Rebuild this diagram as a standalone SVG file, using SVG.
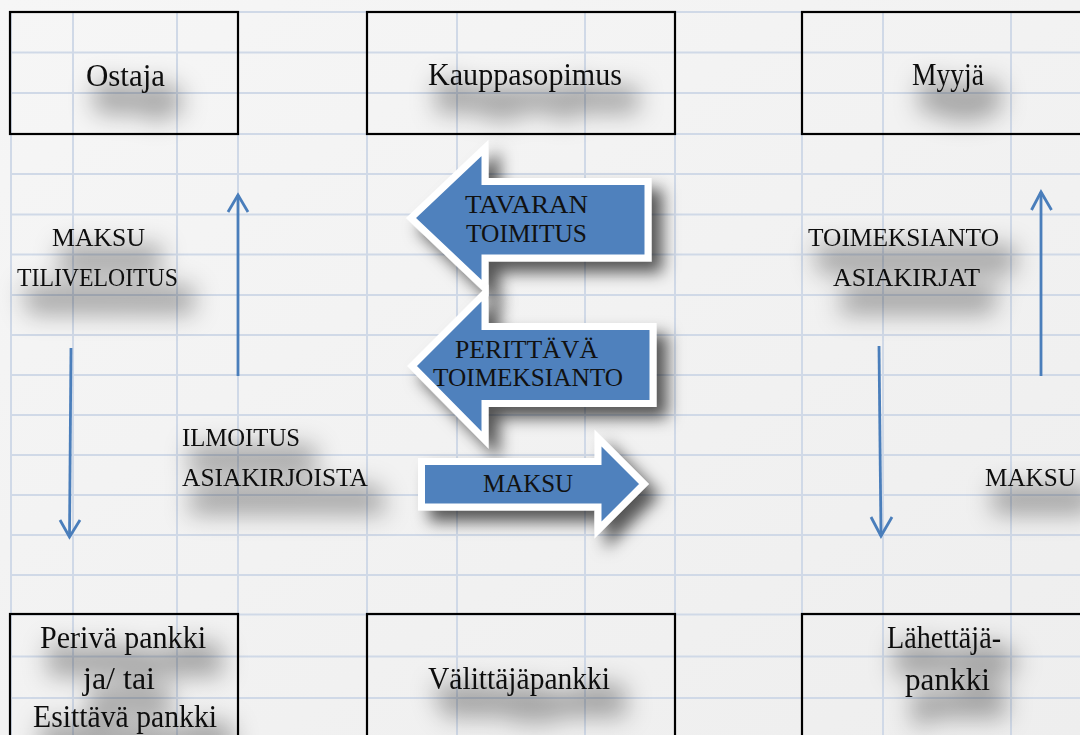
<svg xmlns="http://www.w3.org/2000/svg" width="1080" height="735" viewBox="0 0 1080 735">
<defs>
<style>
.grid line{stroke:#d0d9e7;stroke-width:2}
.box{fill:none;stroke:#000;stroke-width:2.2}
.lbl{font-family:"Liberation Serif","Times New Roman",serif;font-size:32px;fill:#111}
.cap{font-family:"Liberation Serif","Times New Roman",serif;font-size:26px;fill:#111}
.acap{font-family:"Liberation Serif","Times New Roman",serif;font-size:26px;fill:#111}
.blk{fill:#4f81bd;stroke:#fff;stroke-width:7;stroke-linejoin:miter}
.ln{fill:none;stroke:#4a7ebb;stroke-width:2.8}
</style>
<linearGradient id="bg" x1="0" y1="0" x2="1" y2="1">
<stop offset="0" stop-color="#f6f6f6"/>
<stop offset="1" stop-color="#eeeeee"/>
</linearGradient>
<filter id="ts" x="-50%" y="-80%" width="210%" height="360%">
<feMorphology in="SourceAlpha" operator="dilate" radius="6" result="d"/>
<feGaussianBlur in="d" stdDeviation="12" result="b"/>
<feOffset in="b" dx="12" dy="22" result="o"/>
<feFlood flood-color="#000" flood-opacity="0.32"/>
<feComposite in2="o" operator="in" result="s"/>
<feMerge><feMergeNode in="s"/><feMergeNode in="SourceGraphic"/></feMerge>
</filter>
<filter id="as" x="-20%" y="-30%" width="150%" height="180%">
<feGaussianBlur in="SourceAlpha" stdDeviation="8" result="b"/>
<feOffset in="b" dx="11" dy="11" result="o"/>
<feFlood flood-color="#000" flood-opacity="0.65"/>
<feComposite in2="o" operator="in" result="s"/>
<feMerge><feMergeNode in="s"/><feMergeNode in="SourceGraphic"/></feMerge>
</filter>
</defs>
<rect x="0" y="0" width="1080" height="735" fill="url(#bg)"/>
<g class="grid">
<line x1="11" y1="12" x2="1080" y2="12"/>
<line x1="11" y1="52.5" x2="1080" y2="52.5"/>
<line x1="11" y1="93" x2="1080" y2="93"/>
<line x1="11" y1="134" x2="1080" y2="134"/>
<line x1="11" y1="174" x2="1080" y2="174"/>
<line x1="11" y1="214.5" x2="1080" y2="214.5"/>
<line x1="11" y1="254.5" x2="1080" y2="254.5"/>
<line x1="11" y1="295" x2="1080" y2="295"/>
<line x1="11" y1="335" x2="1080" y2="335"/>
<line x1="11" y1="375" x2="1080" y2="375"/>
<line x1="11" y1="415" x2="1080" y2="415"/>
<line x1="11" y1="455" x2="1080" y2="455"/>
<line x1="11" y1="495" x2="1080" y2="495"/>
<line x1="11" y1="535" x2="1080" y2="535"/>
<line x1="11" y1="575" x2="1080" y2="575"/>
<line x1="11" y1="614.5" x2="1080" y2="614.5"/>
<line x1="11" y1="656.5" x2="1080" y2="656.5"/>
<line x1="11" y1="698" x2="1080" y2="698"/>
<line x1="11" y1="12" x2="11" y2="735"/>
<line x1="73" y1="12" x2="73" y2="735"/>
<line x1="177" y1="12" x2="177" y2="735"/>
<line x1="238" y1="12" x2="238" y2="735"/>
<line x1="367" y1="12" x2="367" y2="735"/>
<line x1="457" y1="12" x2="457" y2="735"/>
<line x1="585" y1="12" x2="585" y2="735"/>
<line x1="675" y1="12" x2="675" y2="735"/>
<line x1="802" y1="12" x2="802" y2="735"/>
<line x1="883" y1="12" x2="883" y2="735"/>
<line x1="1011" y1="12" x2="1011" y2="735"/>
</g>

<g id="ostaja">
<rect class="box" x="10" y="12" width="228" height="122"/>
<text class="lbl" x="86" y="86" textLength="79" lengthAdjust="spacingAndGlyphs" filter="url(#ts)">Ostaja</text>
</g>
<g id="kauppasopimus">
<rect class="box" x="367" y="12" width="308" height="122"/>
<text class="lbl" x="428" y="85" textLength="194" lengthAdjust="spacingAndGlyphs" filter="url(#ts)">Kauppasopimus</text>
</g>
<g id="myyja">
<rect class="box" x="802" y="12" width="290" height="122"/>
<text class="lbl" x="912" y="85" textLength="72" lengthAdjust="spacingAndGlyphs" filter="url(#ts)">Myyjä</text>
</g>
<g id="perivapankki">
<rect class="box" x="10" y="614" width="228" height="130"/>
<g filter="url(#ts)">
<text class="lbl" x="40" y="648" textLength="166" lengthAdjust="spacingAndGlyphs">Perivä pankki</text>
<text class="lbl" x="83" y="689" textLength="72" lengthAdjust="spacingAndGlyphs">ja/ tai</text>
<text class="lbl" x="33" y="727" textLength="184" lengthAdjust="spacingAndGlyphs">Esittävä pankki</text>
</g>
</g>
<g id="valittajapankki">
<rect class="box" x="367" y="614" width="308" height="130"/>
<text class="lbl" x="428" y="689" textLength="182" lengthAdjust="spacingAndGlyphs" filter="url(#ts)">Välittäjäpankki</text>
</g>
<g id="lahettajapankki">
<rect class="box" x="802" y="614" width="290" height="130"/>
<g filter="url(#ts)">
<text class="lbl" x="887" y="648" textLength="114" lengthAdjust="spacingAndGlyphs">Lähettäjä-</text>
<text class="lbl" x="905" y="690" textLength="85" lengthAdjust="spacingAndGlyphs">pankki</text>
</g>
</g>

<g id="label-maksu-tiliveloitus" filter="url(#ts)">
<text class="cap" x="52" y="246" textLength="93" lengthAdjust="spacingAndGlyphs">MAKSU</text>
<text class="cap" x="17" y="286" textLength="161" lengthAdjust="spacingAndGlyphs">TILIVELOITUS</text>
</g>
<g id="label-ilmoitus" filter="url(#ts)">
<text class="cap" x="182" y="446" textLength="118" lengthAdjust="spacingAndGlyphs">ILMOITUS</text>
<text class="cap" x="182" y="486" textLength="186" lengthAdjust="spacingAndGlyphs">ASIAKIRJOISTA</text>
</g>
<g id="label-toimeksianto" filter="url(#ts)">
<text class="cap" x="808" y="246" textLength="191" lengthAdjust="spacingAndGlyphs">TOIMEKSIANTO</text>
<text class="cap" x="833" y="286" textLength="147" lengthAdjust="spacingAndGlyphs">ASIAKIRJAT</text>
</g>
<g id="label-maksu-right" filter="url(#ts)">
<text class="cap" x="985" y="486" textLength="91" lengthAdjust="spacingAndGlyphs">MAKSU</text>
</g>

<g id="arrow-tavaran">
<path class="blk" filter="url(#as)" d="M411,218 L485,148 L485,181.5 L648,181.5 L648,258 L485,258 L485,288 Z"/>
<text class="acap" x="465" y="213" textLength="123" lengthAdjust="spacingAndGlyphs">TAVARAN</text>
<text class="acap" x="466" y="242" textLength="121" lengthAdjust="spacingAndGlyphs">TOIMITUS</text>
</g>
<g id="arrow-perittava">
<path class="blk" filter="url(#as)" d="M412,366 L485,293 L485,326.5 L653,326.5 L653,403.5 L485,403.5 L485,440 Z"/>
<text class="acap" x="455" y="358" textLength="143" lengthAdjust="spacingAndGlyphs">PERITTÄVÄ</text>
<text class="acap" x="433" y="386" textLength="190" lengthAdjust="spacingAndGlyphs">TOIMEKSIANTO</text>
</g>
<g id="arrow-maksu">
<path class="blk" filter="url(#as)" d="M421.5,461.5 L598,461.5 L598,438 L644,484 L598,530 L598,507 L421.5,507 Z"/>
<text class="acap" x="483" y="492" textLength="90" lengthAdjust="spacingAndGlyphs">MAKSU</text>
</g>

<g id="connectors">
<path class="ln" d="M71,348 L69.5,537"/>
<path class="ln" d="M60,520 L69.5,537 L80,520"/>
<path class="ln" d="M238,376 L238,195"/>
<path class="ln" d="M228,212 L238,195 L248,212"/>
<path class="ln" d="M879,346 L881,536"/>
<path class="ln" d="M871,517 L881,536 L892,517"/>
<path class="ln" d="M1041,376 L1041,192"/>
<path class="ln" d="M1031.5,210 L1041,192 L1051.5,210"/>
</g>
</svg>
